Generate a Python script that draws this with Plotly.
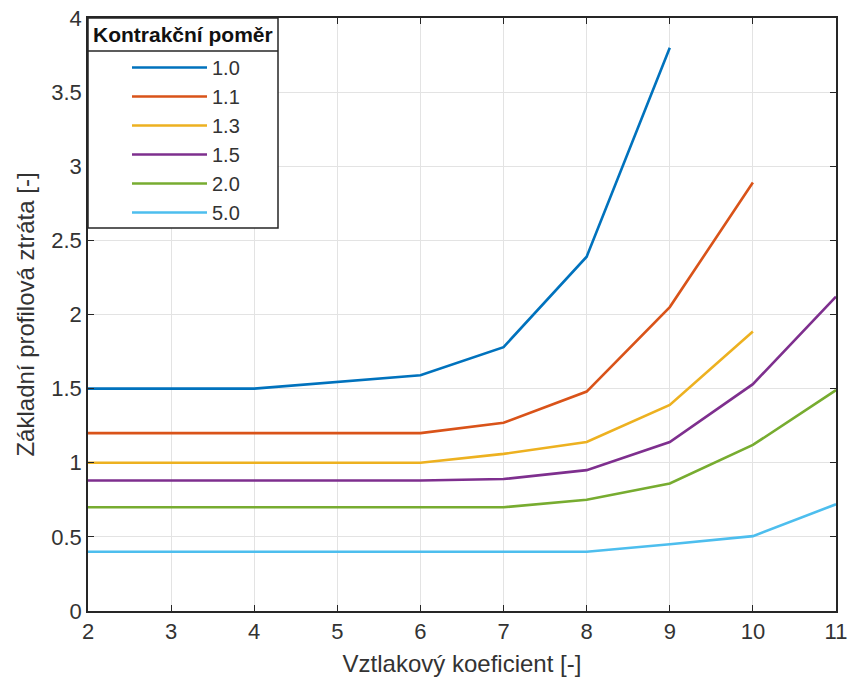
import plotly.graph_objects as go

# Lift coefficient samples shared by all curves
vztlak = [2, 4, 6, 7, 8, 9, 10, 11]

# Profile loss for each contraction ratio
pomery = ["1.0", "1.1", "1.3", "1.5", "2.0", "5.0"]
ztrata_10 = [1.50, 1.50, 1.59, 1.78, 2.39, 3.80]
ztrata_11 = [1.20, 1.20, 1.20, 1.27, 1.48, 2.05, 2.89]
ztrata_13 = [1.00, 1.00, 1.00, 1.06, 1.14, 1.39, 1.885]
ztrata_15 = [0.88, 0.88, 0.88, 0.89, 0.95, 1.14, 1.53, 2.12]
ztrata_20 = [0.70, 0.70, 0.70, 0.70, 0.75, 0.86, 1.12, 1.49]
ztrata_50 = [0.40, 0.40, 0.40, 0.40, 0.40, 0.45, 0.505, 0.72]

barvy = ["#0072BD", "#D95319", "#EDB120", "#7E2F8E", "#77AC30", "#4DBEEE"]

x_ticks = list(range(2, 12))
y_ticks = [0, 0.5, 1, 1.5, 2, 2.5, 3, 3.5, 4]

FONT = "Liberation Sans, Arial, sans-serif"
AXIS_COLOR = "#262626"
TEXT_COLOR = "#333333"

fig = go.Figure()
for nazev, hodnoty, barva in zip(
    pomery,
    [ztrata_10, ztrata_11, ztrata_13, ztrata_15, ztrata_20, ztrata_50],
    barvy,
):
    fig.add_trace(go.Scatter(
        x=vztlak[:len(hodnoty)],
        y=hodnoty,
        mode="lines",
        name=nazev,
        line=dict(color=barva, width=2.6),
    ))

W, H = 850, 686
L, R, T, B = 88, 14, 18, 75
pw, ph = W - L - R, H - T - B


def px_x(p):
    return (p - L) / pw


def px_y(p):
    return 1 - (p - T) / ph


axis_common = dict(
    showline=True, linecolor=AXIS_COLOR, linewidth=1.5, mirror="ticks",
    ticks="inside", ticklen=6, tickcolor=AXIS_COLOR, tickwidth=1.2,
    showgrid=True, gridcolor="#e3e3e3", gridwidth=1,
    zeroline=False, automargin=False,
    tickfont=dict(family=FONT, size=22, color=TEXT_COLOR),
)

fig.update_xaxes(
    range=[2, 11], tickvals=x_ticks,
    title=dict(text="Vztlakový koeficient [-]",
               font=dict(family=FONT, size=24, color=TEXT_COLOR), standoff=12),
    **axis_common,
)
fig.update_yaxes(
    range=[0, 4], tickvals=y_ticks,
    title=dict(text="Základní profilová ztráta [-]",
               font=dict(family=FONT, size=24, color=TEXT_COLOR), standoff=10),
    **axis_common,
)

# Legend frame with a header cell
box_x0, box_x1 = px_x(88), px_x(278)
box_y0, box_y1 = px_y(228), px_y(18)
sep_y = px_y(51)
fig.add_shape(type="rect", xref="paper", yref="paper",
              x0=box_x0, x1=box_x1, y0=box_y0, y1=box_y1,
              line=dict(color=AXIS_COLOR, width=1.5), fillcolor="white",
              layer="above")
fig.add_shape(type="line", xref="paper", yref="paper",
              x0=box_x0, x1=box_x1, y0=sep_y, y1=sep_y,
              line=dict(color=AXIS_COLOR, width=1.5), layer="above")
fig.add_annotation(xref="paper", yref="paper",
                   x=(box_x0 + box_x1) / 2, y=(box_y1 + sep_y) / 2,
                   text="<b>Kontrakční poměr</b>", showarrow=False,
                   xanchor="center", yanchor="middle",
                   font=dict(family=FONT, size=21, color="#111111"))

fig.update_layout(
    width=W, height=H,
    margin=dict(l=L, r=R, t=T, b=B),
    paper_bgcolor="white", plot_bgcolor="white",
    showlegend=True,
    legend=dict(
        x=px_x(127), y=px_y(48), xanchor="left", yanchor="top",
        bgcolor="rgba(0,0,0,0)", borderwidth=0,
        font=dict(family=FONT, size=20, color=TEXT_COLOR),
        itemwidth=75, tracegroupgap=0,
    ),
)

fig.write_html("out.html")
